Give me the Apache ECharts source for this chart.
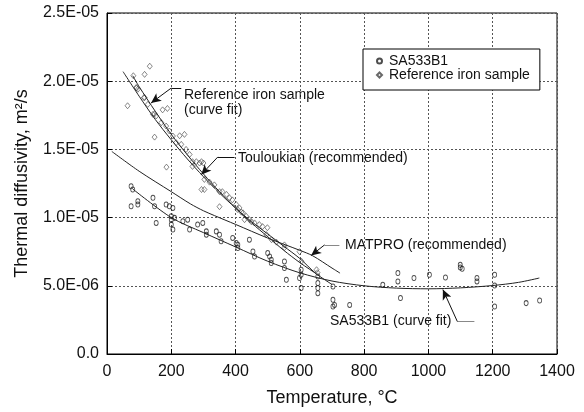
<!DOCTYPE html>
<html>
<head>
<meta charset="utf-8">
<script src="https://cdn.jsdelivr.net/npm/echarts@6/dist/echarts.min.js"></script>
<style>
  html, body { margin: 0; padding: 0; background: #fff; }
  #chart { width: 584px; height: 412px; }
</style>
</head>
<body>
<div id="chart"></div>
<script>
// ---- Data (thermal diffusivity values in units of 1E-06 m2/s) ----
const sa533T = [75, 80, 75, 96, 96, 143, 148, 153, 184, 194, 205, 200, 200, 210, 200, 205, 236, 251, 257, 282,
  298, 309, 309, 340, 350, 355, 391, 402, 407, 407, 443, 454, 459, 500, 506, 511, 511, 552, 552, 558,
  604, 604, 599, 604, 656, 656, 656, 656, 703, 703, 708, 703, 755, 858, 905, 905, 913, 955, 1003, 1053,
  1099, 1099, 1105, 1151, 1151, 1206, 1206, 1206, 1304, 1346];
const sa533V = [12.3, 12.06, 10.83, 10.96, 11.2, 11.45, 10.83, 9.61, 10.96, 10.83, 10.71, 10.1, 9.85, 9.98, 9.49, 9.12, 9.73, 9.85, 9.12, 9.49,
  9.61, 8.99, 8.75, 8.99, 8.75, 8.26, 8.51, 8.14, 8.01, 7.77, 8.38, 7.52, 7.15, 7.4, 7.15, 6.91, 6.67, 6.79, 6.3, 5.44,
  6.18, 5.81, 5.57, 4.83, 5.68, 5.2, 4.83, 4.46, 4.95, 3.97, 3.6, 3.48, 3.6, 5.07, 5.93, 5.32, 4.1, 5.57, 5.81, 5.61,
  6.54, 6.35, 6.25, 5.57, 5.32, 5.81, 5.02, 3.48, 3.73, 3.92];

const ironT = [82, 117, 133, 64, 92, 117, 148, 173, 188, 148, 226, 241, 185, 91, 96, 115, 127, 143, 153, 169,
  184, 194, 205, 215, 231, 246, 257, 266, 278, 288, 294, 300, 266, 303, 294, 303, 319, 334, 350, 359,
  372, 381, 390, 350, 402, 406, 412, 418, 423, 428, 433, 443, 449, 459, 474, 484, 499, 496, 512, 527,
  552, 552, 599, 605, 652, 655];
const ironV = [20.4, 20.5, 21.1, 18.2, 19.5, 18.8, 17.6, 17.9, 18.0, 15.9, 16.0, 16.1, 13.7, 19.54, 19.41, 18.8, 18.3, 17.57, 17.45, 16.96,
  16.71, 16.35, 15.98, 15.49, 15.37, 15.0, 14.63, 14.1, 14.1, 14.0, 14.1, 14.0, 13.75, 12.8, 12.06, 12.06, 12.6, 12.4, 11.9, 11.9,
  11.7, 11.45, 11.3, 10.8, 10.96, 10.6, 10.71, 10.4, 10.35, 9.85, 10.1, 9.85, 9.7, 9.61, 9.49, 9.34, 9.26, 8.75, 8.38, 8.2,
  8.0, 7.8, 7.5, 6.8, 6.18, 5.96];

const ironFitT = [80, 100, 150, 200, 250, 300, 350, 400, 450, 500, 550, 600, 650];
const ironFitV = [20.4, 19.6, 17.8, 16.1, 14.6, 13.2, 11.9, 10.7, 9.6, 8.6, 7.6, 6.7, 5.9];

const toulT = [50, 100, 150, 200, 250, 300, 350, 400, 450, 500, 550, 600, 650, 700];
const toulV = [20.7, 18.9, 17.2, 15.7, 14.3, 13.0, 11.8, 10.7, 9.7, 8.8, 7.9, 7.0, 5.9, 5.1];

const matproT = [15, 100, 200, 260, 300, 334, 400, 500, 600, 640, 700, 725];
const matproV = [14.85, 13.4, 11.9, 11.0, 10.5, 10.15, 9.5, 8.5, 7.6, 7.2, 6.3, 5.93];

const saFitT = [80, 200, 300, 400, 500, 600, 700, 800, 900, 1000, 1100, 1200, 1280, 1345];
const saFitV = [12.1, 10.0, 8.9, 7.85, 6.8, 5.95, 5.35, 5.0, 4.83, 4.78, 4.85, 5.02, 5.25, 5.57];

const xTicks = [0, 200, 400, 600, 800, 1000, 1200, 1400];
const yTicks = [0, 5, 10, 15, 20, 25];

// Annotation leader points (data coordinates: [temperature, value])
const leaderIron = [[231, 19.5], [200, 19.5], [137, 18.4]];
const leaderToul = [[397, 14.45], [345, 14.45], [293, 13.15]];
const leaderMat = [[723, 8.0], [677, 8.0], [635, 7.22]];
const leaderSa = [[1143, 2.38], [1090, 2.38], [1045, 4.72]];

// ---- Chart ----
const FONT = '"Liberation Sans", Arial, sans-serif';
const INK = '#111';
const zip = (a, b) => a.map((t, i) => [t, b[i]]);

function yFmt(v) {
  if (v === 0) return '0.0';
  const x = v * 1e-6;
  const e = Math.floor(Math.log10(x) + 1e-9);
  const m = x / Math.pow(10, e);
  return m.toFixed(1) + 'E-' + String(-e).padStart(2, '0');
}

function leader(pts, hColor) {
  return {
    silent: true,
    symbol: ['none', 'none'],
    label: { show: false },
    animation: false,
    data: [
      [{ coord: pts[0], lineStyle: { color: hColor, width: 1, type: 'solid' } }, { coord: pts[1] }],
      [{ coord: pts[1], lineStyle: { color: '#111', width: 1, type: 'solid' } },
       { coord: pts[2], symbol: 'arrow', symbolSize: [7, 10] }]
    ]
  };
}

const lineStyle = { color: '#222', width: 1 };

const chart = echarts.init(document.getElementById('chart'), null, { renderer: 'canvas' });
chart.setOption({
  animation: false,
  backgroundColor: '#fff',
  textStyle: { fontFamily: FONT },
  grid: { left: 107, right: 27, top: 13, bottom: 58, show: true, borderColor: '#000', borderWidth: 1 },
  xAxis: {
    type: 'value', min: 0, max: 1400, interval: 200,
    name: 'Temperature, °C', nameLocation: 'middle', nameGap: 35,
    nameTextStyle: { fontSize: 18, color: INK, fontFamily: FONT },
    axisLine: { show: true, lineStyle: { color: '#000' } },
    axisTick: { show: true, inside: true, length: 5, lineStyle: { color: '#000' } },
    axisLabel: { fontSize: 16, color: INK, fontFamily: FONT, margin: 10,
      formatter: v => xTicks.includes(v) ? String(v) : '' },
    splitLine: { show: true, lineStyle: { color: '#555', type: [2, 2], width: 1 } }
  },
  yAxis: {
    type: 'value', min: 0, max: 25, interval: 5,
    name: 'Thermal diffusivity, m²/s', nameLocation: 'middle', nameGap: 76,
    nameTextStyle: { fontSize: 18, color: INK, fontFamily: FONT },
    axisLine: { show: true, lineStyle: { color: '#000' } },
    axisTick: { show: true, inside: true, length: 5, lineStyle: { color: '#000' } },
    axisLabel: { fontSize: 16, color: INK, fontFamily: FONT, margin: 8,
      formatter: v => yTicks.includes(v) ? yFmt(v) : '' },
    splitLine: { show: true, lineStyle: { color: '#555', type: [2, 2], width: 1 } }
  },
  legend: {
    orient: 'vertical', left: 363, top: 49,
    padding: [5, 10, 8, 13], itemGap: 0, itemWidth: 5, itemHeight: 5,
    borderColor: '#000', borderWidth: 1, backgroundColor: '#fff',
    textStyle: { fontSize: 14, color: INK, fontFamily: FONT, padding: [0, 0, 0, 2] },
    data: ['SA533B1', 'Reference iron sample']
  },
  series: [
    {
      name: 'SA533B1', type: 'scatter', data: zip(sa533T, sa533V),
      symbol: 'circle', symbolSize: [4, 5],
      itemStyle: { color: 'rgba(255,255,255,0)', borderColor: '#222', borderWidth: 0.9 }
    },
    {
      name: 'Reference iron sample', type: 'scatter', data: zip(ironT, ironV),
      symbol: 'diamond', symbolSize: [5, 6],
      itemStyle: { color: 'rgba(255,255,255,0)', borderColor: '#444', borderWidth: 0.8 }
    },
    {
      name: 'Reference iron sample (curve fit)', type: 'line', data: zip(ironFitT, ironFitV),
      showSymbol: false, smooth: 0.3, lineStyle, markLine: leader(leaderIron, '#111')
    },
    {
      name: 'Touloukian (recommended)', type: 'line', data: zip(toulT, toulV),
      showSymbol: false, smooth: 0.3, lineStyle, markLine: leader(leaderToul, '#111')
    },
    {
      name: 'MATPRO (recommended)', type: 'line', data: zip(matproT, matproV),
      showSymbol: false, smooth: 0.3, lineStyle, markLine: leader(leaderMat, '#888')
    },
    {
      name: 'SA533B1 (curve fit)', type: 'line', data: zip(saFitT, saFitV),
      showSymbol: false, smooth: 0.3, lineStyle, markLine: leader(leaderSa, '#888')
    }
  ],
  graphic: [
    { type: 'text', x: 184, y: 95, style: { text: 'Reference iron sample', font: '14px ' + FONT, fill: INK, verticalAlign: 'middle' } },
    { type: 'text', x: 184, y: 110, style: { text: '(curve fit)', font: '14px ' + FONT, fill: INK, verticalAlign: 'middle' } },
    { type: 'text', x: 238, y: 158, style: { text: 'Touloukian (recommended)', font: '14px ' + FONT, fill: INK, verticalAlign: 'middle' } },
    { type: 'text', x: 345, y: 245, style: { text: 'MATPRO (recommended)', font: '14px ' + FONT, fill: INK, verticalAlign: 'middle' } },
    { type: 'text', x: 330, y: 321, style: { text: 'SA533B1 (curve fit)', font: '14px ' + FONT, fill: INK, verticalAlign: 'middle' } }
  ]
});
</script>
</body>
</html>
